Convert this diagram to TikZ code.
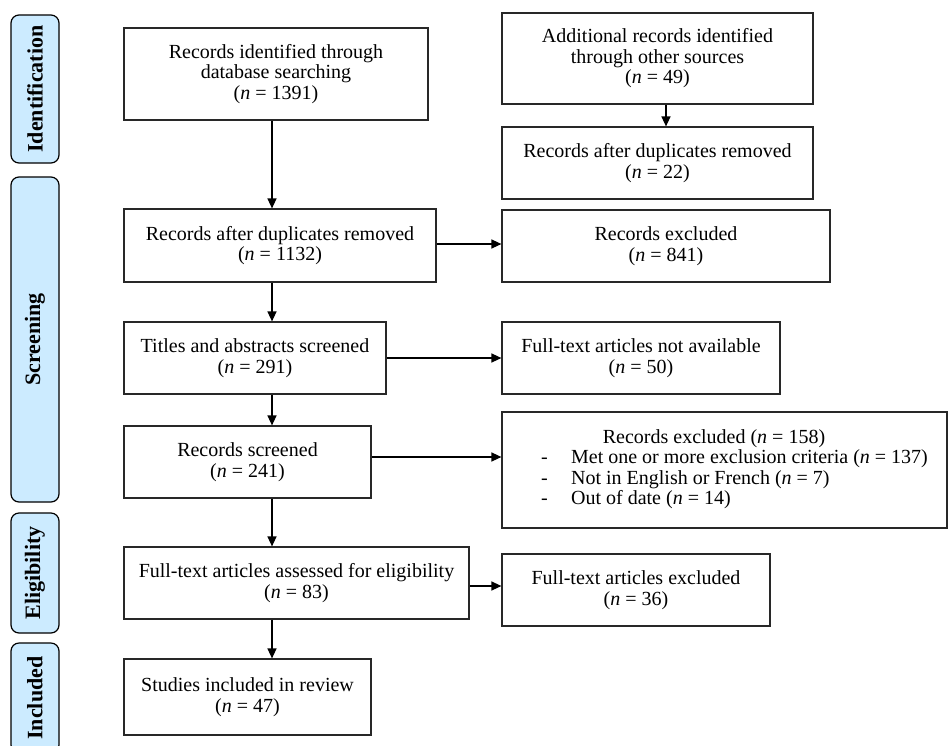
\documentclass[tikz,border=0pt]{standalone}
\usepackage{fontspec}
\setmainfont{Liberation Serif}
\usetikzlibrary{arrows.meta}
\definecolor{tabblue}{RGB}{204,235,255}
\definecolor{boxline}{RGB}{40,40,40}
\newcommand{\tabfont}{\fontsize{22}{24}\selectfont\bfseries}
\begin{document}
\begin{tikzpicture}[x=1pt,y=-1pt,
  box/.style={draw=boxline, line width=1.2pt, fill=white, align=center, inner sep=0pt,
              font=\fontsize{20}{20.5}\selectfont},
  tab/.style={draw=black, line width=1.2pt, fill=tabblue, rounded corners=8pt,
              minimum width=48pt, inner sep=0pt},
  arr/.style={-{Triangle[length=10pt,width=9pt]}, line width=1.4pt}]
\fill[white] (0,0) rectangle (950,745);
\useasboundingbox (0,0) rectangle (950,745);

% phase tabs
\node[tab, minimum height=148pt] (tid) at (35,89) {\rotatebox{90}{\tabfont Identification}};
\node[tab, minimum height=325pt] (tsc) at (35,339.5) {\rotatebox{90}{\tabfont Screening}};
\node[tab, minimum height=120pt] (tel) at (35,573) {\rotatebox{90}{\tabfont Eligibility}};
\node[tab, minimum height=110pt] (tin) at (35,698) {\rotatebox{90}{\tabfont Included}};

% boxes
\node[box, minimum width=304pt, minimum height=92pt] (b1) at (276,74)
  {Records identified through\\database searching\\(\textit{n} = 1391)};
\node[box, minimum width=311pt, minimum height=91pt] (add) at (657.5,58.5)
  {Additional records identified\\through other sources\\(\textit{n} = 49)};
\node[box, minimum width=311pt, minimum height=72pt] (dup) at (657.5,163)
  {Records after duplicates removed\\(\textit{n} = 22)};
\node[box, minimum width=312pt, minimum height=73pt] (b2) at (280,245.5)
  {Records after duplicates removed\\(\textit{n} = 1132)};
\node[box, minimum width=328pt, minimum height=72pt] (exc1) at (666,246)
  {Records excluded\\(\textit{n} = 841)};
\node[box, minimum width=262pt, minimum height=72pt] (tit) at (255,358)
  {Titles and abstracts screened\\(\textit{n} = 291)};
\node[box, minimum width=278pt, minimum height=72pt] (na) at (641,358)
  {Full-text articles not available\\(\textit{n} = 50)};
\node[box, minimum width=247pt, minimum height=72pt] (scr) at (247.5,462)
  {Records screened\\(\textit{n} = 241)};
\node[box, minimum width=445pt, minimum height=116pt] (exc2) at (724.5,470)
  {\hspace*{20pt}\renewcommand{\arraystretch}{0.98}%
   \begin{tabular}{@{}p{30pt}@{}l@{}}
   \multicolumn{2}{c}{Records excluded (\textit{n} = 158)\kern41pt}\\
   - & Met one or more exclusion criteria (\textit{n} = 137)\\
   - & Not in English or French (\textit{n} = 7)\\
   - & Out of date (\textit{n} = 14)
   \end{tabular}};
\node[box, minimum width=345pt, minimum height=72pt] (ass) at (296.5,583)
  {Full-text articles assessed for eligibility\\(\textit{n} = 83)};
\node[box, minimum width=268pt, minimum height=72pt] (fte) at (636,590)
  {Full-text articles excluded\\(\textit{n} = 36)};
\node[box, minimum width=247pt, minimum height=76pt] (inc) at (247.5,697)
  {Studies included in review\\(\textit{n} = 47)};

% connectors
\coordinate (sp) at (272,0);
\coordinate (sp2) at (666,0);
\draw[arr] (b1.south -| sp) -- (b2.north -| sp);
\draw[arr] (b2.south -| sp) -- (tit.north -| sp);
\draw[arr] (tit.south -| sp) -- (scr.north -| sp);
\draw[arr] (scr.south -| sp) -- (ass.north -| sp);
\draw[arr] (ass.south -| sp) -- (inc.north -| sp);
\draw[arr] (add.south -| sp2) -- (dup.north -| sp2);
\draw[arr] ([yshift=1.5pt]b2.east) -- ([yshift=1.5pt]b2.east -| exc1.west);
\draw[arr] (tit.east) -- (tit.east -| na.west);
\draw[arr] ([yshift=5pt]scr.east) -- ([yshift=5pt]scr.east -| exc2.west);
\draw[arr] ([yshift=-3pt]ass.east) -- ([yshift=-3pt]ass.east -| fte.west);
\end{tikzpicture}
\end{document}
